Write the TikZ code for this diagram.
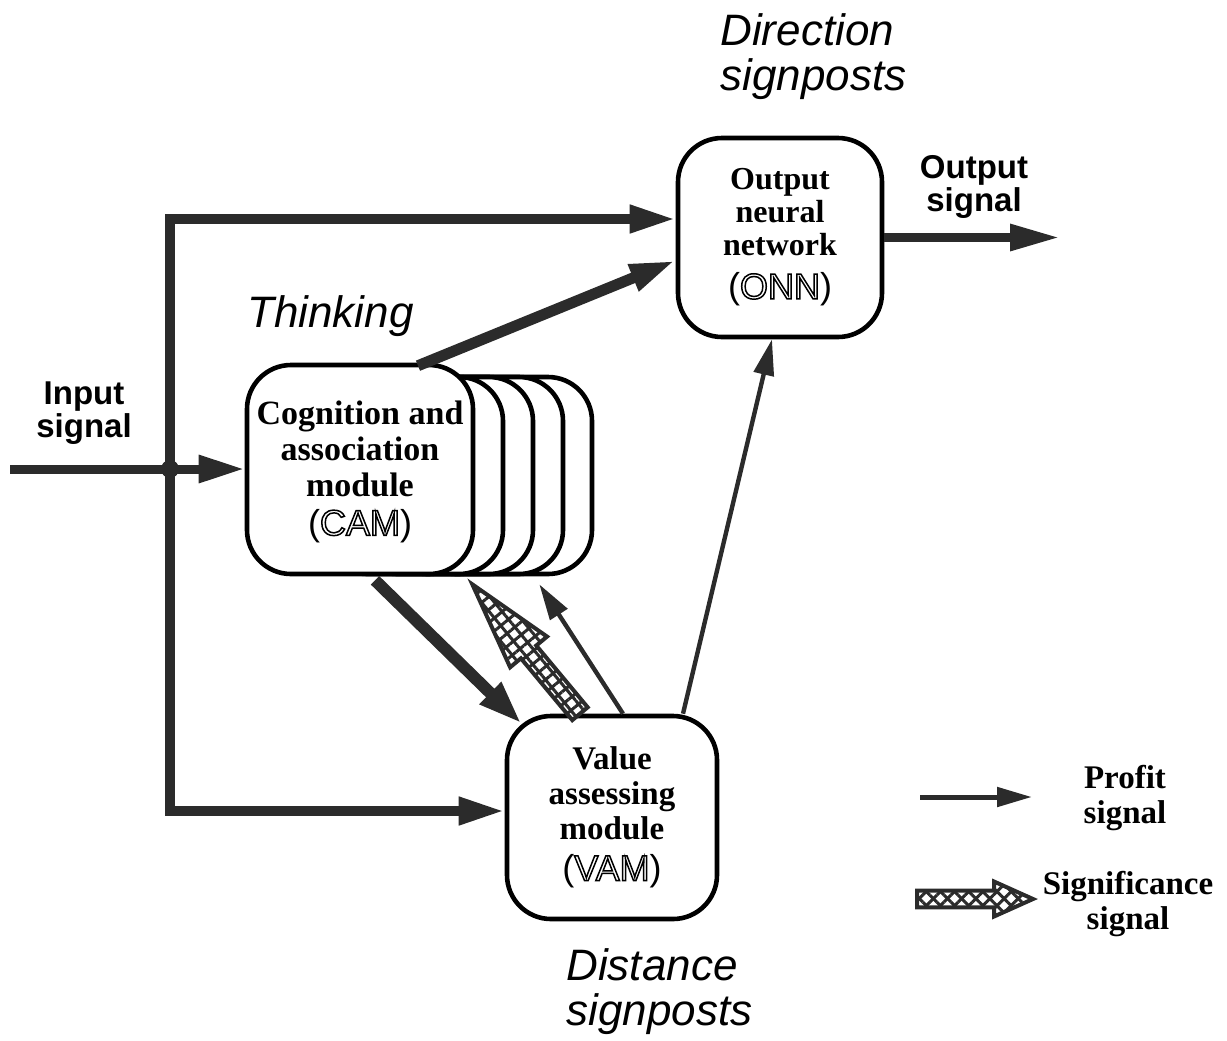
\documentclass[tikz,border=0pt]{standalone}
\usepackage{fontspec}
\setmainfont{Liberation Serif}
\setsansfont{Liberation Sans}
\usetikzlibrary{arrows.meta,calc,patterns.meta}

\definecolor{ink}{HTML}{2B2B2B}

% hollow (stroked only) letters for the module abbreviations
\newcommand\hollow[1]{\special{pdf:literal direct 1 Tr 0.75 w}#1\special{pdf:literal direct 0 Tr}}
\newcommand\abbr[1]{{\sffamily\mdseries\fontsize{18}{18}\selectfont(\hollow{#1})}}

% broad cross-hatched arrow from #1 to #2:
% shaft half-width #3, head half-width #4, head length #5, hatch angles #6 and #7
\newcommand\hatcharrow[7]{%
  \coordinate (ha-H)  at ($(#2)!#5!(#1)$);
  \coordinate (ha-a1) at ($(#1)!#3!90:(#2)$);
  \coordinate (ha-a2) at ($(#1)!#3!-90:(#2)$);
  \coordinate (ha-h1) at ($(ha-H)!#3!90:(#2)$);
  \coordinate (ha-h2) at ($(ha-H)!#3!-90:(#2)$);
  \coordinate (ha-b1) at ($(ha-H)!#4!90:(#2)$);
  \coordinate (ha-b2) at ($(ha-H)!#4!-90:(#2)$);
  \fill[white] (ha-a1) -- (ha-h1) -- (ha-b1) -- (#2) -- (ha-b2) -- (ha-h2) -- (ha-a2) -- cycle;
  \fill[pattern={Lines[angle=#6,distance=5pt,line width=1.5pt]},pattern color=ink]
    (ha-a1) -- (ha-h1) -- (ha-b1) -- (#2) -- (ha-b2) -- (ha-h2) -- (ha-a2) -- cycle;
  \fill[pattern={Lines[angle=#7,distance=5pt,line width=1.5pt]},pattern color=ink]
    (ha-a1) -- (ha-h1) -- (ha-b1) -- (#2) -- (ha-b2) -- (ha-h2) -- (ha-a2) -- cycle;
  \draw[ink,line width=2pt,line join=miter]
    (ha-a1) -- (ha-h1) -- (ha-b1) -- (#2) -- (ha-b2) -- (ha-h2) -- (ha-a2) -- cycle;
}

\tikzset{
  module/.style={draw=black, line width=2.3pt, fill=white, rounded corners=22pt,
    align=center, inner sep=0pt, font=\bfseries},
  layer/.style={draw=black, line width=2.3pt, fill=white, rounded corners=22pt,
    minimum width=90pt, minimum height=98.5pt},
  feed/.style={draw=ink, line width=4.5pt,
    -{Triangle[length=23pt,width=13pt]}},
  trunk/.style={draw=ink, line width=5pt, line join=miter,
    {Triangle[length=23pt,width=13pt]}-{Triangle[length=23pt,width=13pt]}},
  heavy/.style={draw=ink, line width=6pt,
    -{Triangle[length=22pt,width=14pt]}},
  profit/.style={draw=ink, line width=2.2pt,
    -{Triangle[length=18pt,width=10pt]}},
  caption/.style={font=\sffamily\itshape\fontsize{22}{22.5}\selectfont, align=left, inner sep=0pt},
  signame/.style={font=\sffamily\bfseries\fontsize{16.5}{16.5}\selectfont, align=center, inner sep=0pt},
  legendtext/.style={font=\bfseries\fontsize{16.5}{17.5}\selectfont, align=center, inner sep=0pt},
}

\begin{document}
\begin{tikzpicture}[x=0.5pt,y=-0.5pt]
\useasboundingbox (0,0) rectangle (1227,1040);

% stacked layers behind the cognition and association module
\node[layer] (camd) at (502,475.5) {};
\node[layer] (camc) at (473,475.5) {};
\node[layer] (camb) at (443,475.5) {};
\node[layer] (cama) at (413,475.5) {};

% modules
\node[module, minimum width=113pt, minimum height=104.5pt,
      font=\bfseries\fontsize{17}{18}\selectfont] (cam) at (360,469.5)
  {\\[-4pt]Cognition and\\association\\module\\[1.5pt]\abbr{CAM}};
\node[module, minimum width=102pt, minimum height=99.5pt,
      font=\bfseries\fontsize{16}{16.5}\selectfont] (onn) at (780,237.5)
  {Output\\neural\\network\\[5pt]\abbr{ONN}};
\node[module, minimum width=105pt, minimum height=101.5pt,
      font=\bfseries\fontsize{16.5}{17.5}\selectfont] (vam) at (612,817.5)
  {Value\\assessing\\module\\[3pt]\abbr{VAM}};

% free ends and branch points of the input wiring
\coordinate (in)  at (10,469);
\coordinate (tl)  at (170,219);
\coordinate (bl)  at (170,811);
\coordinate (out) at (1060,240);
\coordinate (j)   at (170,469);

% input distribution
\draw[trunk] (tl -| onn.west) -- (tl) -- (bl) -- (bl -| vam.west);
\draw[feed] (in) -- (in -| cam.west);
\fill[ink] (j) circle (4.5pt);

% module to module signals
\coordinate (camtop) at ($(cam.north)+(58,3)$);
\coordinate (onnin)  at ($(onn.west)+(0,23)$);
\draw[heavy, line width=5.5pt, -{Triangle[length=23pt,width=13pt]}] (camtop) -- (onnin);
\draw[feed, line width=4.5pt, -{Triangle[length=25pt,width=12.5pt]}] (onn.east) -- (onn.east -| out);

\coordinate (camlow) at ($(cam.south)+(15,4)$);
\coordinate (vamtl)  at ($(vam.north west)+(17,10)$);
\draw[heavy] (camlow) -- (vamtl);

% significance signal, value module back to cognition module
\coordinate (sigA) at ($(vam.north)+(-32,0)$);
\coordinate (sigB) at ($(cam.south east)+(-3,8)$);
\hatcharrow{sigA}{sigB}{5pt}{12pt}{44pt}{39.6}{129.6}

% profit signals
\coordinate (prA) at ($(vam.north)+(11,0)$);
\coordinate (prB) at ($(cam.south east)+(64,8)$);
\draw[profit] (prA) -- (prB);
\coordinate (prC) at ($(vam.north)+(71,0)$);
\coordinate (prD) at ($(onn.south)+(-8,0)$);
\draw[profit] (prC) -- (prD);

% captions
\node[caption, anchor=west] (dirlbl) at (720,57) {Direction\\signposts};
\node[caption, anchor=west] (thinklbl) at (247,316) {Thinking};
\node[caption, anchor=west] (distlbl) at (566,992) {Distance\\signposts};
\node[signame] (inlbl) at (84,413) {Input\\signal};
\node[signame] (outlbl) at (974,187) {Output\\signal};

% legend
\coordinate (lgA) at (920,797);
\coordinate (lgB) at (1032,797);
\draw[profit, line width=2.5pt, -{Triangle[length=17.5pt,width=9.5pt]}] (lgA) -- (lgB);
\node[legendtext] (profitlbl) at (1125,798) {Profit\\signal};
\coordinate (lgC) at (917,899);
\coordinate (lgD) at (1033,899);
\hatcharrow{lgC}{lgD}{4.2pt}{8.75pt}{19.5pt}{45}{-45}
\node[legendtext] (siglbl) at (1128,904) {Significance\\signal};
\end{tikzpicture}
\end{document}
